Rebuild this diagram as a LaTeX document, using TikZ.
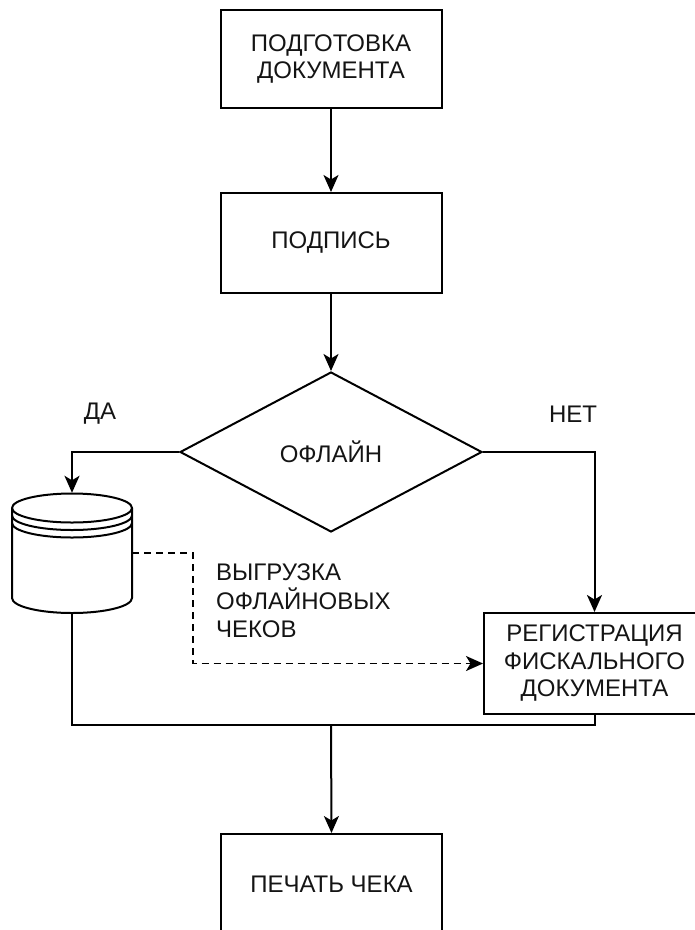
\documentclass[tikz,border=0pt]{standalone}
\usepackage{fontspec}
\setmainfont{Liberation Sans}
\usetikzlibrary{arrows.meta,shapes.geometric}
\begin{document}
\begin{tikzpicture}[x=1pt,y=-1pt,
  txt/.style={font=\fontsize{24}{27.5}\selectfont, text=black!92, align=center},
  proc/.style={txt, draw, line width=2pt, minimum width=221pt, minimum height=100pt, inner sep=0pt},
  dec/.style={txt, draw, diamond, line width=2pt, minimum width=302pt, minimum height=160pt, inner sep=0pt, aspect=1.89},
  line/.style={line width=2pt},
  tip/.tip={Stealth[length=17pt,width=15pt,inset=4.5pt]},
  conn/.style={line, -tip},
  dconn/.style={line width=1.8pt, dash pattern=on 7pt off 5pt, -tip},
  lbl/.style={txt}
]
\clip (0,0) rectangle (695,930);
\useasboundingbox (0,0) rectangle (695,930);

\node[proc, minimum height=98pt] (b1) at (331,59) {ПОДГОТОВКА\\ДОКУМЕНТА};
\node[proc] (b2) at (331,243) {ПОДПИСЬ};
\node[dec] (dia) at (331,452) {ОФЛАЙН};
\node[proc, minimum height=101pt] (b3) at (594.5,663.5) {РЕГИСТРАЦИЯ\\ФИСКАЛЬНОГО\\ДОКУМЕНТА};
\node[proc] (b4) at (331.5,884) {ПЕЧАТЬ ЧЕКА};

% datastore
\node[minimum width=120pt, minimum height=120pt, inner sep=0pt] (db) at (72,553) {};
\draw[line] (12,508) arc[start angle=180,end angle=-180,x radius=60pt,y radius=14.5pt];
\draw[line] (12,515.5) arc[start angle=180,end angle=360,x radius=60pt,y radius=14.5pt];
\draw[line] (12,523) arc[start angle=180,end angle=360,x radius=60pt,y radius=14.5pt];
\draw[line] (12,508) -- (12,598) arc[start angle=180,end angle=360,x radius=60pt,y radius=15pt] -- (132,508);

\node[lbl] (da) at (100,414) {ДА};
\node[lbl] (net) at (573,414) {НЕТ};
\node[lbl, align=left, anchor=north west, inner sep=0pt, font=\fontsize{24}{28.5}\selectfont] (vyg) at (216,564) {ВЫГРУЗКА\\ОФЛАЙНОВЫХ\\ЧЕКОВ};

\coordinate (j) at (331,725);

\draw[conn] (b1) -- (b2);
\draw[conn] (b2) -- (dia);
\draw[conn] (dia.west) -| (db.north);
\draw[conn] (dia.east) -| (b3.north);
\draw[dconn] (db.east) -- ++(61,0) |- (b3.west);
\draw[line] (db.south) -- (db.south |- j) -- (b3.south |- j) -- (b3.south);
\draw[conn] (j) -- (b4.north);
\end{tikzpicture}
\end{document}
